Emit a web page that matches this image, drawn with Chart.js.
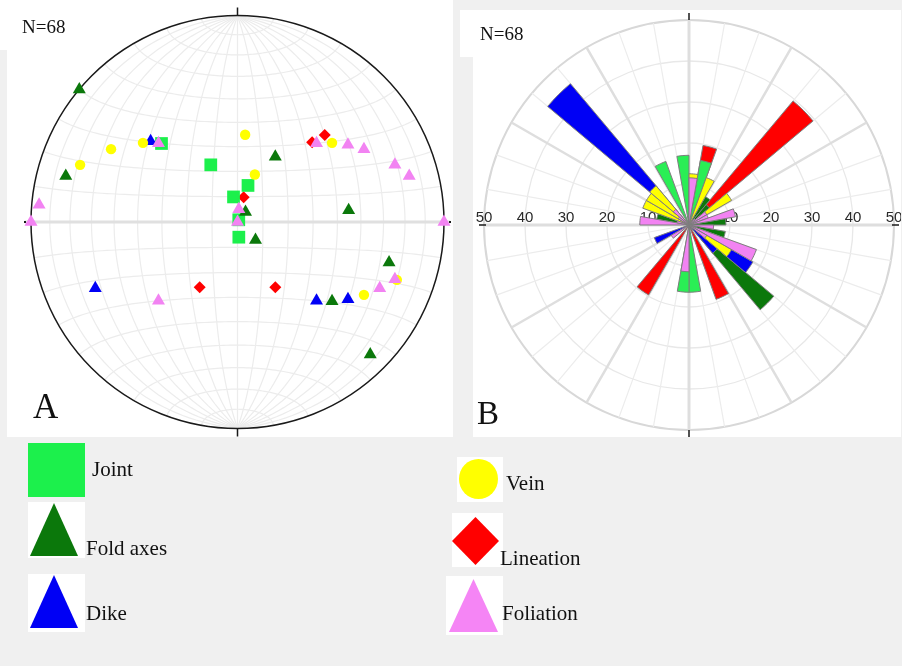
<!DOCTYPE html>
<html>
<head>
<meta charset="utf-8">
<script src="https://cdn.jsdelivr.net/npm/chart.js@4.4.1/dist/chart.umd.min.js"></script>
<style>
  body { margin: 0; width: 902px; height: 666px; background: #f0f0f0; position: relative; overflow: hidden;
         font-family: "Liberation Serif", "Times New Roman", serif; color: #111; }
  .panel { position: absolute; background: #fff; }
  canvas { position: absolute; }
  .txt { position: absolute; white-space: nowrap; line-height: 1; }
  .shape { position: absolute; }
</style>
</head>
<body>
<div class="panel" style="left:7px;top:0;width:446px;height:437px"></div>
<div class="panel" style="left:0;top:0;width:30px;height:50px"></div>
<div class="panel" style="left:473px;top:10px;width:428px;height:427px"></div>
<div class="panel" style="left:460px;top:10px;width:95px;height:47px"></div>

<canvas id="stereo" width="446" height="437" style="left:7px;top:0"></canvas>
<canvas id="rose" width="428" height="430" style="left:473px;top:8px"></canvas>

<div class="txt" style="left:22px;top:17px;font-size:19px">N=68</div>
<div class="txt" style="left:480px;top:24px;font-size:19px">N=68</div>
<div class="txt" style="left:33px;top:389px;font-size:35px">A</div>
<div class="txt" style="left:477px;top:397px;font-size:33px">B</div>

<!-- legend -->
<div class="shape" style="left:28px;top:443px;width:57px;height:54px;background:#1cf04c"></div>
<div class="txt" style="left:92px;top:459px;font-size:21px">Joint</div>

<div class="shape" style="left:28px;top:502px;width:57px;height:56px;background:#fff"></div>
<div class="shape" style="left:30px;top:503px;width:48px;height:53px;background:#0b780b;clip-path:polygon(50% 0,100% 100%,0 100%)"></div>
<div class="txt" style="left:86px;top:538px;font-size:21px">Fold axes</div>

<div class="shape" style="left:28px;top:574px;width:57px;height:58px;background:#fff"></div>
<div class="shape" style="left:30px;top:575px;width:48px;height:53px;background:#0000f5;clip-path:polygon(50% 0,100% 100%,0 100%)"></div>
<div class="txt" style="left:86px;top:603px;font-size:21px">Dike</div>

<div class="shape" style="left:457px;top:457px;width:46px;height:45px;background:#fff"></div>
<div class="shape" style="left:459px;top:459px;width:39px;height:40px;background:#ffff00;border-radius:50%"></div>
<div class="txt" style="left:506px;top:473px;font-size:21px">Vein</div>

<div class="shape" style="left:452px;top:513px;width:51px;height:54px;background:#fff"></div>
<div class="shape" style="left:452px;top:517px;width:47px;height:48px;background:#ff0000;clip-path:polygon(50% 0,100% 50%,50% 100%,0 50%)"></div>
<div class="txt" style="left:500px;top:548px;font-size:21px">Lineation</div>

<div class="shape" style="left:446px;top:576px;width:57px;height:59px;background:#fff"></div>
<div class="shape" style="left:449px;top:579px;width:49px;height:53px;background:#f585f5;clip-path:polygon(50% 0,100% 100%,0 100%)"></div>
<div class="txt" style="left:502px;top:603px;font-size:21px">Foliation</div>

<script>
// ---- stereonet (lower hemisphere, equal area): trend / plunge in degrees ----
const jointTrend = [335, 16, 351, 30, 175, 316];
const jointPlunge = [65, 75, 80, 89, 84, 46];
const foldTrend = [310, 285, 30, 84, 39, 135, 105, 130, 135];
const foldPlunge = [0, 15, 60, 45, 85, 80, 25, 40, 10];
const dikeTrend = [313, 245, 135, 125];
const dikePlunge = [42, 25, 45, 35];
const veinTrend = [5, 300, 290, 310, 20, 50, 120, 110];
const veinPlunge = [55, 30, 20, 40, 70, 40, 30, 19];
const lineTrend = [45, 210, 150, 14, 43];
const linePlunge = [40, 60, 60, 80, 46];
const folTrend = [270, 275, 315, 45, 55, 60, 70, 75, 6, 0, 90, 110, 115, 225];
const folPlunge = [0, 4, 45, 45, 35, 30, 20, 15, 85, 90, 0, 20, 25, 45];

// ---- rose diagram: counts per 10 degree bin, bins 0-10 ... 350-360 ----
const binLabels = Array.from({length: 36}, (_, i) => (i * 10) + '-' + (i * 10 + 10));
const folRose   = [11.5,0,0,0,2,5,5,11.5,0,6, 0,17.5,5,0,0,0,0,0,11.4,0, 0,0,0,5,0,0,0,12,3,0, 3,5,0,0,0,0];
const veinRose  = [1,0,12.3,0,0,7,0,0,0,0, 0,0,7,0,0,0,0,0,0,0, 0,0,0,0,0,0,0,0,0,12, 9,7.5,0,0,0,0];
const dikeRose  = [0,0,0,0,0,0,0,0,0,0, 0,0,6,9,0,0,0,0,0,0, 0,0,0,0,9,0,0,0,0,0, 0,32.5,0,0,0,0];
const foldRose  = [0,0,0,8,4.5,0,0,0,9,0, 9,0,0,18,0,0,0,0,0,0, 0,0,0,0,0,0,0,0,5,0, 0,0,0,0,0,0];
const jointRose = [0,16,0,0,0,0,0,0,0,0, 0,0,0,0,0,0,0,16.4,5,0, 0,0,0,0,0,0,0,0,0,0, 0,0,0,16.5,0,17];
const lineRose  = [0,3.7,0,0,33,0,0,0,0,0, 0,0,0,0,0,19.3,0,0,0,0, 0,19.7,0,0,0,0,0,0,0,0, 0,0,0,0,0,0];
const roseTicks = [10, 20, 30, 40, 50];

const DEG = Math.PI / 180;

// equal-area projection of a unit vector (north, east, down)
function project(n, e, d) {
  const th = Math.acos(Math.max(-1, Math.min(1, d)));
  const r = Math.SQRT2 * Math.sin(th / 2);
  const h = Math.hypot(n, e);
  return h < 1e-9 ? [0, 0] : [r * e / h, r * n / h];
}
function toPoints(trends, plunges) {
  return trends.map((t, i) => {
    const p = plunges[i] * DEG, a = t * DEG;
    const q = project(Math.cos(p) * Math.cos(a), Math.cos(p) * Math.sin(a), Math.sin(p));
    return {x: q[0], y: q[1]};
  });
}

const stereoGrid = {
  id: 'stereoGrid',
  beforeDatasetsDraw(chart) {
    const {ctx, scales: {x, y}} = chart;
    const px = p => [x.getPixelForValue(p[0]), y.getPixelForValue(p[1])];
    const path = pts => {
      ctx.beginPath();
      pts.forEach((p, i) => { const q = px(p); i ? ctx.lineTo(q[0], q[1]) : ctx.moveTo(q[0], q[1]); });
      ctx.stroke();
    };
    ctx.save();
    ctx.strokeStyle = '#ececec';
    ctx.lineWidth = 1.2;
    // great circles through N and S
    for (let dip = 10; dip < 180; dip += 10) {
      const pts = [];
      for (let f = 0; f <= 180; f += 2) {
        const a = f * DEG, b = dip * DEG;
        pts.push(project(Math.cos(a), Math.sin(a) * Math.cos(b), Math.sin(a) * Math.sin(b)));
      }
      path(pts);
    }
    // small circles about the N-S axis
    for (let s = 10; s < 180; s += 10) {
      if (s === 90) continue;
      const pts = [];
      for (let f = 0; f <= 180; f += 2) {
        const a = s * DEG, b = f * DEG;
        pts.push(project(Math.cos(a), Math.sin(a) * Math.cos(b), Math.sin(a) * Math.sin(b)));
      }
      path(pts);
    }
    // E-W diameter
    ctx.strokeStyle = '#e0e0e0';
    ctx.lineWidth = 3;
    path([[-1.03, 0], [1.03, 0]]);
    // primitive circle
    const c = px([0, 0]);
    const R = x.getPixelForValue(1) - c[0];
    ctx.strokeStyle = '#1a1a1a';
    ctx.lineWidth = 1.5;
    ctx.beginPath();
    ctx.arc(c[0], c[1], R, 0, 2 * Math.PI);
    ctx.stroke();
    // N / S ticks and E / W marks
    ctx.beginPath();
    ctx.moveTo(c[0], c[1] - R - 8); ctx.lineTo(c[0], c[1] - R);
    ctx.moveTo(c[0], c[1] + R); ctx.lineTo(c[0], c[1] + R + 8);
    ctx.stroke();
    ctx.fillStyle = '#1a1a1a';
    ctx.fillRect(c[0] - R - 7, c[1] - 1, 2, 2);
    ctx.fillRect(c[0] + R + 5, c[1] - 1, 2, 2);
    ctx.restore();
  }
};

function pointSet(label, trends, plunges, style, radius, color) {
  return {
    label, data: toPoints(trends, plunges), pointStyle: style, pointRadius: radius,
    backgroundColor: color, borderColor: color, borderWidth: 0, clip: false
  };
}

new Chart(document.getElementById('stereo'), {
  type: 'scatter',
  data: {
    datasets: [
      pointSet('Foliation', folTrend, folPlunge, 'triangle', 7.5, '#f283f2'),
      pointSet('Vein', veinTrend, veinPlunge, 'circle', 5.2, '#ffff00'),
      pointSet('Dike', dikeTrend, dikePlunge, 'triangle', 7.5, '#0000f5'),
      pointSet('Fold axes', foldTrend, foldPlunge, 'triangle', 7.5, '#0b780b'),
      pointSet('Joint', jointTrend, jointPlunge, 'rect', 9, '#1cf04c'),
      pointSet('Lineation', lineTrend, linePlunge, 'rectRot', 6, '#ff0000')
    ]
  },
  options: {
    responsive: false,
    animation: false,
    layout: {padding: {left: 24, right: 8, top: 16, bottom: 7}},
    scales: {
      x: {type: 'linear', min: -1, max: 1, display: false},
      y: {type: 'linear', min: -1, max: 1, display: false}
    },
    plugins: {legend: {display: false}, tooltip: {enabled: false}}
  },
  plugins: [stereoGrid]
});

// ---- rose: stacked sectors, innermost category first ----
const roseCats = [
  {name: 'Foliation', vals: folRose, color: '#f283f2'},
  {name: 'Vein', vals: veinRose, color: '#ffff00'},
  {name: 'Dike', vals: dikeRose, color: '#0000f5'},
  {name: 'Fold axes', vals: foldRose, color: '#0b780b'},
  {name: 'Joint', vals: jointRose, color: '#2aee55'},
  {name: 'Lineation', vals: lineRose, color: '#ff0000'}
];
let running = new Array(36).fill(0);
const roseSets = roseCats.map(c => {
  running = running.map((v, i) => v + c.vals[i]);
  return {
    label: c.name,
    data: running.slice(),
    backgroundColor: ctx => c.vals[ctx.dataIndex] ? c.color : 'rgba(0,0,0,0)',
    borderColor: '#7d7d7d',
    borderWidth: ctx => c.vals[ctx.dataIndex] ? 1 : 0
  };
});

const roseAxes = {
  id: 'roseAxes',
  beforeDatasetsDraw(chart) {
    const {ctx} = chart;
    const r = chart.scales.r;
    const cx = r.xCenter, cy = r.yCenter;
    const R = r.getDistanceFromCenterForValue(r.max);
    ctx.save();
    ctx.font = '15px "Liberation Sans", Arial, sans-serif';
    ctx.fillStyle = '#2a2a2a';
    ctx.textAlign = 'center';
    ctx.textBaseline = 'alphabetic';
    roseTicks.forEach(v => {
      const d = r.getDistanceFromCenterForValue(v);
      ctx.fillText(String(v), cx - d, cy - 3);
      ctx.fillText(String(v), cx + d, cy - 3);
    });
    ctx.strokeStyle = '#1a1a1a';
    ctx.lineWidth = 1.5;
    ctx.beginPath();
    ctx.moveTo(cx, cy - R - 7); ctx.lineTo(cx, cy - R);
    ctx.moveTo(cx, cy + R); ctx.lineTo(cx, cy + R + 7);
    ctx.moveTo(cx - R - 5, cy); ctx.lineTo(cx - R + 2, cy);
    ctx.moveTo(cx + R - 2, cy); ctx.lineTo(cx + R + 5, cy);
    ctx.stroke();
    ctx.restore();
  }
};

new Chart(document.getElementById('rose'), {
  type: 'polarArea',
  data: {labels: binLabels, datasets: roseSets},
  options: {
    responsive: false,
    animation: false,
    layout: {padding: {left: 11, right: 7, top: 12, bottom: 8}},
    scales: {
      r: {
        min: 0, max: 50,
        startAngle: 0,
        ticks: {display: false, stepSize: 10},
        grid: {
          circular: true,
          color: c => c.tick && c.tick.value === 50 ? '#d8d8d8' : '#e8e8e8',
          lineWidth: c => c.tick && c.tick.value === 50 ? 2 : 1.3
        },
        angleLines: {
          display: true,
          color: c => c.index % 3 === 0 ? '#dedede' : '#ececec',
          lineWidth: c => c.index % 9 === 0 ? 3 : (c.index % 3 === 0 ? 2.5 : 1.2)
        },
        pointLabels: {display: false}
      }
    },
    plugins: {legend: {display: false}, tooltip: {enabled: false}}
  },
  plugins: [roseAxes]
});
</script>
</body>
</html>
